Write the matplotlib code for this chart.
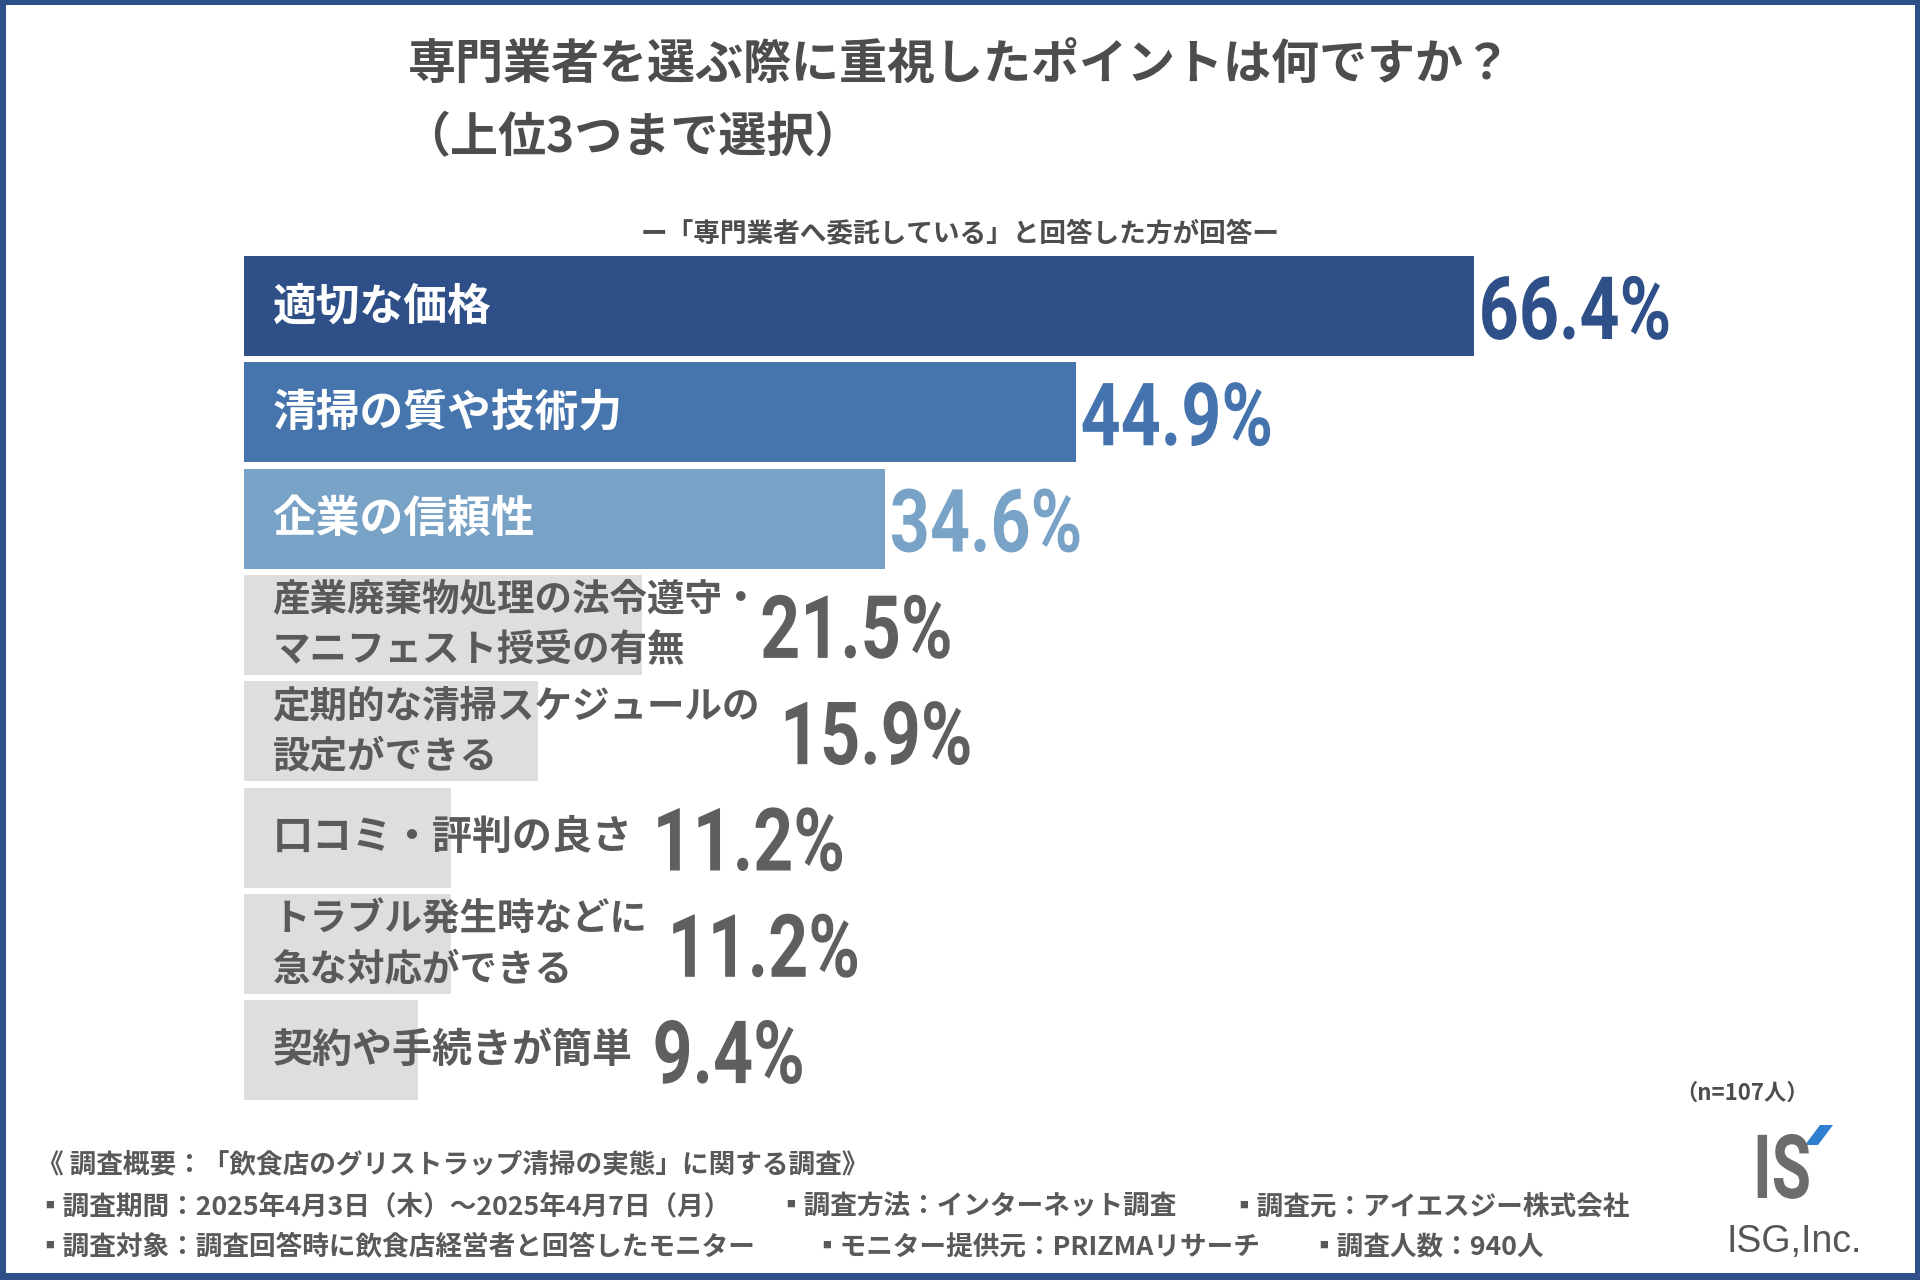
import matplotlib
matplotlib.use('Agg')
import matplotlib.pyplot as plt
from matplotlib.patches import Rectangle, Polygon
from matplotlib.patheffects import AbstractPathEffect
from matplotlib.transforms import Affine2D

# ---------------- data ----------------
categories = [
    '適切な価格',
    '清掃の質や技術力',
    '企業の信頼性',
    '産業廃棄物処理の法令遵守・\nマニフェスト授受の有無',
    '定期的な清掃スケジュールの\n設定ができる',
    '口コミ・評判の良さ',
    'トラブル発生時などに\n急な対応ができる',
    '契約や手続きが簡単',
]
values = [66.4, 44.9, 34.6, 21.5, 15.9, 11.2, 11.2, 9.4]
value_labels = ['66.4%', '44.9%', '34.6%', '21.5%', '15.9%', '11.2%', '11.2%', '9.4%']

title_line1 = '専門業者を選ぶ際に重視したポイントは何ですか？'
title_line2 = '（上位3つまで選択）'
subtitle = 'ー「専門業者へ委託している」と回答した方が回答ー'
sample_note = '（n=107人）'
footer_head = '《 調査概要：「飲食店のグリストラップ清掃の実態」に関する調査》'
footer_row1 = ['▪調査期間：2025年4月3日（木）～2025年4月7日（月）',
               '▪調査方法：インターネット調査',
               '▪調査元：アイエスジー株式会社']
footer_row2 = ['▪調査対象：調査回答時に飲食店経営者と回答したモニター',
               '▪モニター提供元：PRIZMAリサーチ',
               '▪調査人数：940人']
logo_mark = 'IS'
logo_text = 'ISG,Inc.'

# ---------------- styles ----------------
NAVY = '#2e4f87'
bar_colors = [NAVY, '#4675ad', '#78a3c7'] + ['#dedede'] * 5
value_colors = [NAVY, '#4473ad', '#78a3c7'] + ['#5f5f5f'] * 5
label_colors = ['white'] * 3 + ['#5a5a5a'] * 5
label_sizes = [31.5, 31.5, 31.5, 27, 27, 28.8, 27, 28.8]
value_gaps_px = [5, 5, 5, 0, 20, 20, 20, 20]
TEXT_GRAY = '#4d4d4d'
CJK = ['Noto Sans CJK JP', 'DejaVu Sans']
NUM = ['Roboto', 'DejaVu Sans']


class Condense(AbstractPathEffect):
    """Draw text glyphs horizontally compressed about the text origin."""

    def __init__(self, sx):
        super().__init__()
        self.sx = sx

    def draw_path(self, renderer, gc, tpath, affine, rgbFace=None):
        renderer.draw_path(gc, tpath, Affine2D().scale(self.sx, 1.0) + affine, rgbFace)


plt.rcParams['font.family'] = CJK

W, H = 1920, 1280
fig = plt.figure(figsize=(W / 100, H / 100), dpi=100)
fig.patch.set_facecolor('white')

# frame
for (x0, y0, w, h) in [(0, 0, 6, H), (W - 5, 0, 5, H), (0, 0, W, 7), (0, H - 5, W, 5)]:
    fig.patches.append(Rectangle((x0 / W, y0 / H), w / W, h / H, transform=fig.transFigure,
                                 facecolor=NAVY, edgecolor='none', zorder=10))

# titles
fig.text(408 / W, 1 - 65 / H, title_line1, fontsize=34.6, fontweight='bold', color=TEXT_GRAY,
         ha='left', va='center')
fig.text(402 / W, 1 - 138 / H, title_line2, fontsize=34.6, fontweight='bold', color=TEXT_GRAY,
         ha='left', va='center')
fig.text(0.5, 1 - 234 / H, subtitle, fontsize=19.2, fontweight='bold', color=TEXT_GRAY,
         ha='center', va='center')

# ---------------- bars ----------------
px_per_pct = 18.52
xmax = 90
pitch = 106.3
ax_left = 244
ax_top = 256 + 50 - pitch / 2
ax_h = pitch * 8
ax = fig.add_axes([ax_left / W, 1 - (ax_top + ax_h) / H, xmax * px_per_pct / W, ax_h / H])
ypos = list(range(len(values)))
ax.barh(ypos, values, height=100 / pitch, color=bar_colors, edgecolor='none')
ax.set_xlim(0, xmax)
ax.set_ylim(len(values) - 0.5, -0.5)
ax.axis('off')

label_artists = []
for i, (cat, c, fs) in enumerate(zip(categories, label_colors, label_sizes)):
    t = ax.annotate(cat, xy=(0, i), xytext=(20.5, 0), textcoords='offset points',
                    ha='left', va='center', fontsize=fs, fontweight='bold', color=c,
                    linespacing=1.35)
    label_artists.append(t)

fig.canvas.draw()
renderer = fig.canvas.get_renderer()
inv = ax.transData.inverted()
for i, (v, lab, c) in enumerate(zip(values, value_labels, value_colors)):
    gap = value_gaps_px[i] / px_per_pct
    x = v + gap
    if i >= 3:
        bb = label_artists[i].get_window_extent(renderer)
        x_lab = inv.transform((bb.x1, 0))[0] + gap
        x = max(x, x_lab)
    ax.text(x, i, lab, ha='left', va='center_baseline', fontsize=63, fontweight='bold',
            color=c, family=NUM, path_effects=[Condense(0.8)])

# ---------------- footer ----------------
fig.text(1742 / W, 1 - 1093 / H, sample_note, fontsize=16, fontweight='bold',
         color=TEXT_GRAY, ha='center', va='center')
fig.text(37 / W, 1 - 1165 / H, footer_head, fontsize=19.2, fontweight='bold',
         color='#595959', ha='left', va='center')
for txt, x in zip(footer_row1, [36, 777, 1230]):
    fig.text(x / W, 1 - 1207 / H, txt, fontsize=19.2, fontweight='bold',
             color='#595959', ha='left', va='center', family=CJK)
for txt, x in zip(footer_row2, [36, 813, 1310]):
    fig.text(x / W, 1 - 1248 / H, txt, fontsize=19.2, fontweight='bold',
             color='#595959', ha='left', va='center', family=CJK)

# logo
fig.text(1753 / W, 1 - 1198 / H, logo_mark, fontsize=64, fontweight='bold',
         color='#6e6c6a', ha='left', va='baseline', family=NUM,
         path_effects=[Condense(0.72)])
acc = [(1805, 1145), (1818, 1145), (1833, 1125), (1820, 1125)]
fig.patches.append(Polygon([(x / W, 1 - y / H) for x, y in acc], closed=True,
                           transform=fig.transFigure, facecolor='#2f7fd0', edgecolor='none'))
fig.text(1794 / W, 1 - 1252 / H, logo_text, fontsize=27, color='#555555',
         ha='center', va='baseline', family=['Liberation Sans', 'DejaVu Sans'])

fig.savefig('out.png', dpi=100, facecolor='white')
